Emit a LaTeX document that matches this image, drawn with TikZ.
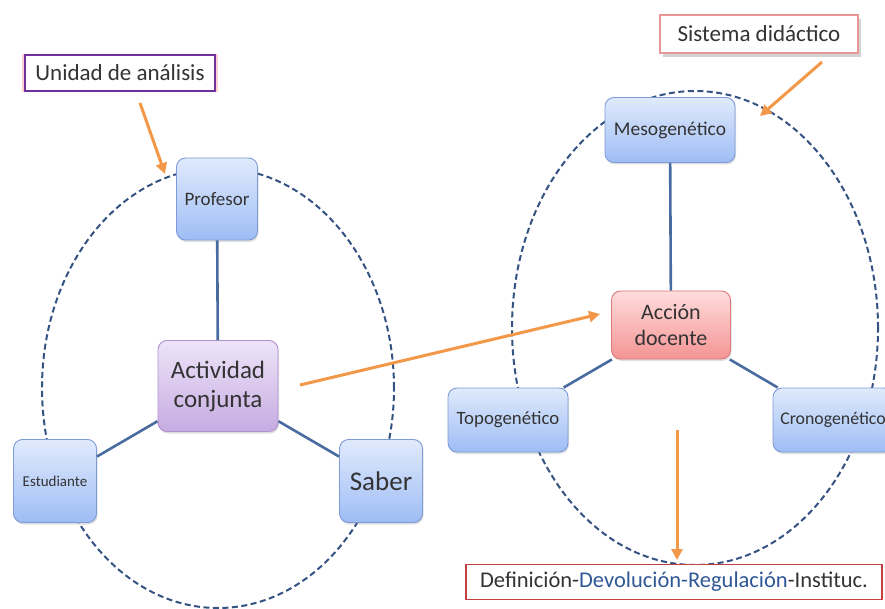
\documentclass[tikz,border=0pt]{standalone}
\usepackage{fontspec}
\setmainfont{Carlito}
\usepackage{xcolor}
\definecolor{cajaTop}{RGB}{224,234,252}
\definecolor{cajaBot}{RGB}{158,189,245}
\definecolor{cajaLine}{RGB}{125,155,215}
\definecolor{actTop}{RGB}{238,228,248}
\definecolor{actBot}{RGB}{198,172,226}
\definecolor{actLine}{RGB}{175,145,205}
\definecolor{accTop}{RGB}{255,220,220}
\definecolor{accBot}{RGB}{244,148,148}
\definecolor{accLine}{RGB}{220,120,120}
\definecolor{linkBlue}{RGB}{72,108,160}
\definecolor{elipBlue}{RGB}{52,82,130}
\definecolor{flechaOrange}{RGB}{242,152,72}
\definecolor{unidadPurple}{RGB}{112,48,160}
\definecolor{sistemaPink}{RGB}{232,150,150}
\definecolor{defRed}{RGB}{196,64,64}
\definecolor{defBlue}{RGB}{48,88,150}
\usepackage{tikz}
\usetikzlibrary{shadows,arrows.meta}

\begin{document}
\begin{tikzpicture}[x=1pt, y=-1pt,
  caja/.style={draw=cajaLine, line width=0.9pt, rounded corners=9pt, top color=cajaTop, bottom color=cajaBot,
    align=center, text=black!80, drop shadow={opacity=0.25, shadow xshift=1pt, shadow yshift=-2pt}},
  lnk/.style={draw=linkBlue, line width=2.6pt},
  elip/.style={draw=elipBlue, line width=2pt, dash pattern=on 6pt off 3.5pt},
  flecha/.style={draw=flechaOrange, line width=3pt, -{Triangle[length=11pt, width=11pt]}},
  etiq/.style={fill=white, align=center, text=black!80, inner xsep=8pt, minimum height=36pt}]
\useasboundingbox (0,0) rectangle (885,609);

% elipses
\draw[elip] (218,388) ellipse [x radius=176pt, y radius=220pt];
\draw[elip] (695,328) ellipse [x radius=183pt, y radius=237pt];

% unidad de analisis
\node[caja, minimum width=81pt, minimum height=82pt, font=\fontsize{19}{22}\selectfont] (prof) at (217,199) {Profesor};
\node[caja, draw=actLine, top color=actTop, bottom color=actBot, minimum width=120pt, minimum height=91pt,
  font=\fontsize{25}{29}\selectfont] (act) at (218,386) {Actividad\\conjunta};
\node[caja, minimum width=83pt, minimum height=83pt, font=\fontsize{15}{17}\selectfont] (est) at (55,481) {Estudiante};
\node[caja, minimum width=83pt, minimum height=83pt, font=\fontsize{27}{30}\selectfont] (sab) at (381,481) {Saber};

\draw[lnk] (prof) -- (act);
\draw[lnk] (act) -- (est);
\draw[lnk] (act) -- (sab);

% sistema didactico
\node[caja, minimum width=130pt, minimum height=65pt, font=\fontsize{19.5}{22}\selectfont] (meso) at (670,130) {Mesogenético};
\node[caja, draw=accLine, top color=accTop, bottom color=accBot, minimum width=119pt, minimum height=68pt,
  font=\fontsize{22}{26}\selectfont] (acc) at (671,325) {Acción\\docente};
\node[caja, minimum width=120pt, minimum height=64pt, font=\fontsize{18.8}{21}\selectfont] (topo) at (508,420) {Topogenético};
\node[caja, minimum width=120pt, minimum height=64pt, font=\fontsize{17.8}{21}\selectfont] (crono) at (833,420) {Cronogenético};

\draw[lnk] (meso) -- (acc);
\draw[lnk] (acc) -- (topo);
\draw[lnk] (acc) -- (crono);

% etiquetas
\node[etiq, draw=unidadPurple, line width=2pt, minimum width=190pt, font=\fontsize{23}{26}\selectfont,
  drop shadow={opacity=0.3, color=red!60, shadow xshift=0pt, shadow yshift=0pt, shadow scale=1.03}] (unidad) at (120,73) {Unidad de análisis};
\node[etiq, draw=sistemaPink, line width=1.4pt, minimum width=198pt, minimum height=38pt, font=\fontsize{23}{26}\selectfont,
  drop shadow={opacity=0.35, shadow xshift=3pt, shadow yshift=-4pt}] (sistema) at (759,34) {Sistema didáctico};
\node[etiq, draw=defRed, line width=1.8pt, minimum width=416pt, minimum height=35pt, font=\fontsize{22.5}{25}\selectfont]
  (defi) at (674,582) {Definición-\textcolor{defBlue}{Devolución-Regulación}-Instituc.};

% flechas
\coordinate (u1) at (140,103);
\coordinate (u2) at (165,174);
\coordinate (s1) at (822,62);
\coordinate (s2) at (760,116);
\coordinate (a1) at (300,385);
\coordinate (a2) at (600,314);
\coordinate (d1) at (677,430);
\coordinate (d2) at (677,560);
\draw[flecha] (u1) -- (u2);
\draw[flecha] (s1) -- (s2);
\draw[flecha] (a1) -- (a2);
\draw[flecha] (d1) -- (d2);
\end{tikzpicture}
\end{document}
